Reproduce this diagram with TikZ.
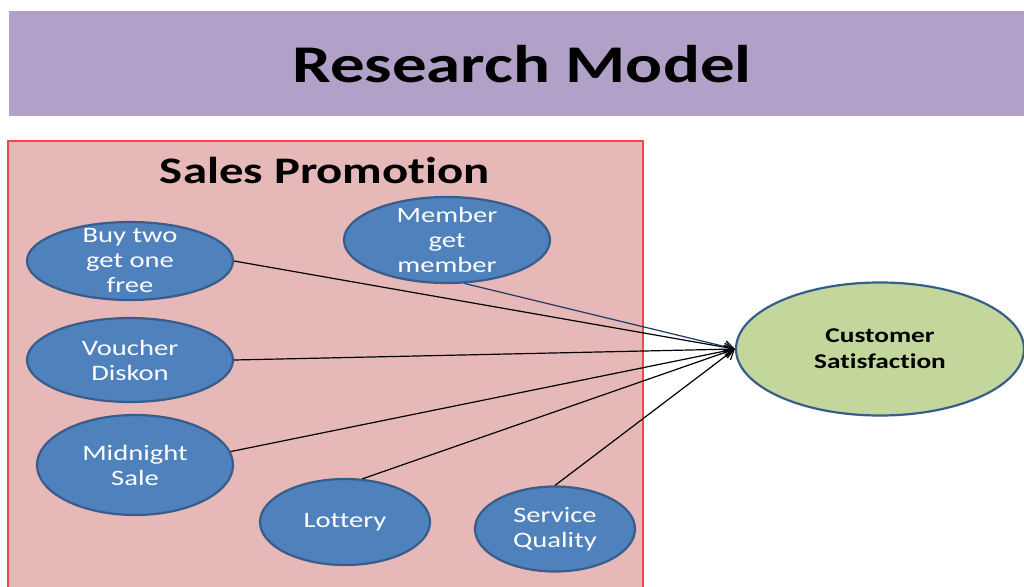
\documentclass[tikz,border=0pt]{standalone}
\usepackage{fontspec}
\setmainfont{Carlito}[FakeStretch=1.3, Ligatures=NoCommon]
\usetikzlibrary{shapes.geometric,arrows.meta}
\definecolor{titlebar}{HTML}{B1A0C7}
\definecolor{promofill}{HTML}{E6B9B8}
\definecolor{promoline}{HTML}{F04848}
\definecolor{bubfill}{HTML}{4F81BD}
\definecolor{bubline}{HTML}{385D8A}
\definecolor{goalfill}{HTML}{C3D69B}
\definecolor{linkblue}{HTML}{1F3864}
\tikzset{
  bub/.style={ellipse, draw=bubline, fill=bubfill, line width=2.2pt, inner sep=0pt},
  txt/.style={text=white, align=center, font=\fontsize{22}{25}\selectfont, inner sep=0pt},
  goal/.style={ellipse, draw=bubline, fill=goalfill, line width=2.2pt, inner sep=0pt},
  link/.style={line width=1.2pt, -{Straight Barb[length=9pt,width=12pt,line width=1.2pt]}}
}
\begin{document}
\begin{tikzpicture}[x=1pt,y=-1pt]
  \clip (0,0) rectangle (1024,586);
  \fill[white] (0,0) rectangle (1024,586);
  % title bar
  \fill[titlebar] (9,11) rectangle (1030,116);
  \node[font=\fontsize{53}{60}\bfseries\selectfont, inner sep=0pt] (title) at (522,64) {Research Model};
  % sales promotion panel
  \draw[promoline, fill=promofill, line width=1.2pt] (8,141) rectangle (643,595);
  \node[font=\fontsize{37.5}{42}\bfseries\selectfont, inner sep=0pt] (promo) at (325,170) {Sales Promotion};
  % promotion instruments
  \node[bub, minimum width=206pt, minimum height=78pt, label={[txt]center:Buy two\\get one\\free}] (buy) at (130,261) {};
  \node[bub, minimum width=206pt, minimum height=86pt, label={[txt]center:Member\\get\\member}] (member) at (447,240) {};
  \node[bub, minimum width=206pt, minimum height=84pt, label={[txt]center:Voucher\\Diskon}] (voucher) at (130,360) {};
  \node[bub, minimum width=196pt, minimum height=100pt, label={[txt]center:Midnight\\Sale}] (midnight) at (135,465) {};
  \node[bub, minimum width=170pt, minimum height=86pt, label={[txt]center:Lottery}] (lottery) at (345,522) {};
  \node[bub, minimum width=160pt, minimum height=85pt, label={[txt]center:Service\\Quality}] (service) at (555,529) {};
  % outcome
  \node[goal, minimum width=288pt, minimum height=133pt, label={[align=center, inner sep=0pt, font=\fontsize{21}{26}\bfseries\selectfont]center:Customer\\Satisfaction}] (cs) at (880,349) {};
  % links
  \draw[link] (buy.east) -- (cs.west);
  \draw[link, linkblue] (member.-68) -- (cs.west);
  \draw[link] (voucher.east) -- (cs.west);
  \draw[link] (midnight.8) -- (cs.west);
  \draw[link] (lottery.68) -- (cs.west);
  \draw[link] (service.north) -- (cs.west);
\end{tikzpicture}
\end{document}
